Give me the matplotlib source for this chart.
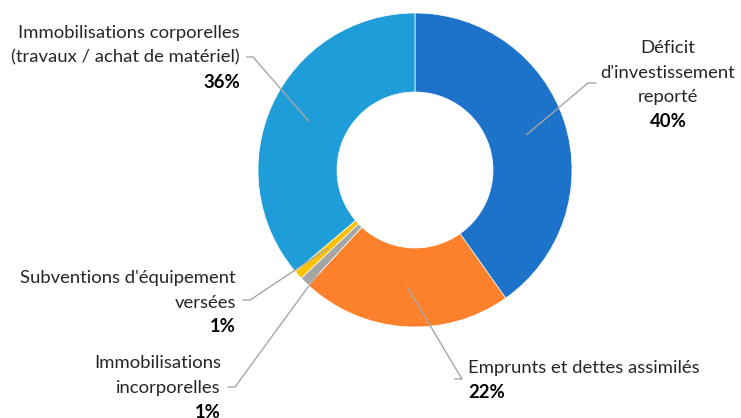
import numpy as np
import matplotlib.pyplot as plt

# data (clockwise from 12 o'clock)
categories = ["Déficit\nd'investissement\nreporté",
              "Emprunts et dettes assimilés",
              "Immobilisations\nincorporelles",
              "Subventions d'équipement\nversées",
              "Immobilisations corporelles\n(travaux / achat de matériel)"]
shares = [40.2, 21.7, 1.0, 0.9, 36.2]
colors = ['#1C73C9', '#FD812B', '#A5A5A5', '#FFC000', '#1F9DD8']

W, H = 741, 418
cx, cy = 415, H - 170
r_out, r_in = 157, 78

# label layout: (x, y of first line, alignment, elbow x, elbow y, line end x)
layout = [
    (668, 48, 'center', 596, 83, 588),
    (468, 368, 'left', 455, 379, 462),
    (221, 363, 'right', 228, 387, 235),
    (236, 278, 'right', 243, 300, 250),
    (240, 33, 'right', 247, 57, 253),
]
step = 24.5
fam = ['Lato', 'DejaVu Sans']
fs = 13.3

fig = plt.figure(figsize=(W / 100, H / 100), dpi=100)
ax = fig.add_axes([0, 0, 1, 1])
wedges, _ = ax.pie(shares, colors=colors, startangle=90, counterclock=False,
                   center=(cx, cy), radius=r_out,
                   wedgeprops=dict(width=r_out - r_in, edgecolor='white', linewidth=0.5))
ax.set_xlim(0, W)
ax.set_ylim(0, H)
ax.set_aspect('auto')
ax.axis('off')

total = sum(shares)
cum = np.cumsum([0] + shares[:-1])
r_mid = (r_out + r_in) / 2
for i, (name, v) in enumerate(zip(categories, shares)):
    x, y0, ha, ex, ey, lx = layout[i]
    th = np.deg2rad((cum[i] + v / 2) / total * 360)
    px, py = cx + r_mid * np.sin(th), cy + r_mid * np.cos(th)
    ax.plot([px, lx, ex], [py, H - ey, H - ey], color='#A6A6A6', lw=1)
    lines = name.split('\n')
    for k, ln in enumerate(lines):
        ax.text(x, H - (y0 + k * step), ln, ha=ha, va='center',
                fontsize=fs, family=fam, color='#262626')
    ax.text(x, H - (y0 + len(lines) * step), f"{round(v)}%", ha=ha, va='center',
            fontsize=fs, family=fam, weight='bold', color='black')

fig.savefig('out.png', dpi=100)
